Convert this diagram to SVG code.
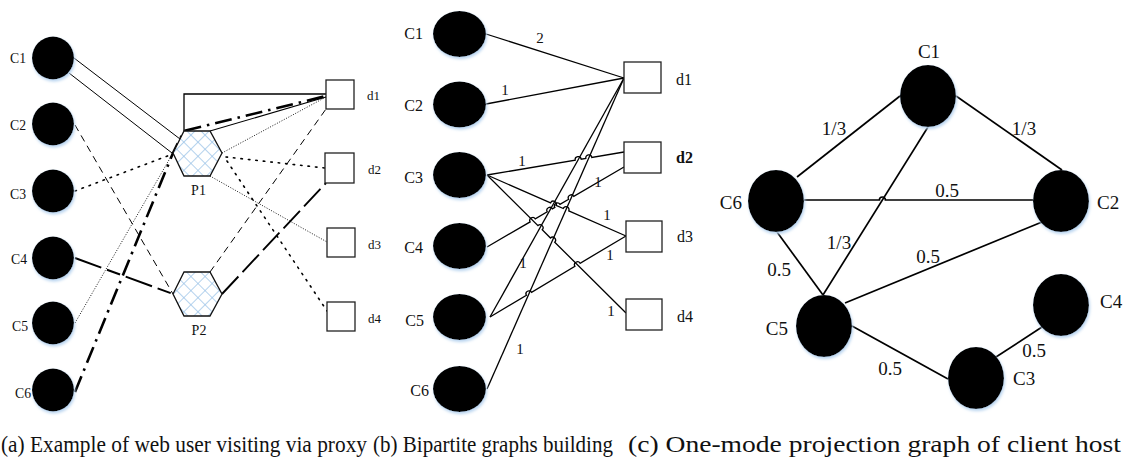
<svg xmlns="http://www.w3.org/2000/svg" width="1123" height="461" viewBox="0 0 1123 461">
<defs>
<style>
.n{fill:#000;filter:url(#glow)}
.box{fill:#fff;stroke:#222;stroke-width:1.3}
.t{font-family:"Liberation Serif","Times New Roman",serif;fill:#111}
.la{font-size:15px}
.lb{font-size:16px}
.lc{font-size:19px}
.da{font-size:13px}
.e{fill:none;stroke:#000}
.eb{fill:none;stroke:#000;stroke-width:1.3}
.ec{fill:none;stroke:#000;stroke-width:1.7}
.hex{fill:url(#hatch);stroke:#111;stroke-width:1.3}
.cap{font-size:23px}
</style>
<filter id="glow" x="-30%" y="-30%" width="160%" height="160%">
<feGaussianBlur in="SourceAlpha" stdDeviation="1.6" result="b"/>
<feOffset in="b" dx="1" dy="1.5" result="o"/>
<feFlood flood-color="#b7d3ef"/>
<feComposite in2="o" operator="in" result="s"/>
<feMerge><feMergeNode in="s"/><feMergeNode in="SourceGraphic"/></feMerge>
</filter>
<pattern id="hatch" width="10" height="10" patternUnits="userSpaceOnUse" patternTransform="rotate(45)">
<rect width="10" height="10" fill="#fff"/>
<path d="M0,0H10M0,0V10" stroke="#9cc3e8" stroke-width="1.5"/>
</pattern>
</defs>
<rect width="1123" height="461" fill="#fff"/>

<!-- Panel (a) connectors -->
<g id="connectors-a">
<path class="e" stroke-width="1" d="M74,58 L180,139"/>
<path class="e" stroke-width="1" d="M69,73 L172,153"/>
<path class="e" stroke="#333" stroke-width="1.3" d="M184,131 V94 H326"/>
<path class="e" stroke-width="1.1" d="M210,131 L326,97"/>
<path class="e" stroke-width="2.6" stroke-dasharray="17,6,2.5,6" d="M75,392 L173,153 L184,131 L326,96"/>
<path class="e" stroke-width="1" stroke-dasharray="7,5" d="M75,125 L173,294"/>
<path class="e" stroke-width="1.6" stroke-dasharray="1.5,6" stroke-linecap="round" d="M75,191 L170,155"/>
<path class="e" stroke-width="2" stroke-dasharray="28,6,14,6" d="M75,258 L173,294"/>
<path class="e" stroke-width="0.9" stroke-dasharray="1,1.6" d="M75,323 L173,153"/>
<path class="e" stroke-width="0.9" stroke-dasharray="1,1.6" d="M222,153 L326,97"/>
<path class="e" stroke-width="1.6" stroke-dasharray="1.5,6" stroke-linecap="round" d="M226,157 L325,168"/>
<path class="e" stroke-width="0.9" stroke-dasharray="1,1.6" d="M210,176 L327,242"/>
<path class="e" stroke-width="1.6" stroke-dasharray="1.5,6" stroke-linecap="round" d="M227,161 L327,311"/>
<path class="e" stroke-width="1" stroke-dasharray="7,5" d="M210,272 L326,109"/>
<path class="e" stroke-width="1.9" stroke-dasharray="24,6" d="M222,294 L326,183"/>
</g>

<!-- Panel (a) nodes -->
<g id="a-C1"><ellipse class="n" cx="53" cy="58" rx="21" ry="21.5"/><text class="t la" x="26" y="63" text-anchor="end" textLength="16" lengthAdjust="spacingAndGlyphs">C1</text></g>
<g id="a-C2"><ellipse class="n" cx="53" cy="124" rx="21" ry="21.5"/><text class="t la" x="26" y="130" text-anchor="end" textLength="16" lengthAdjust="spacingAndGlyphs">C2</text></g>
<g id="a-C3"><ellipse class="n" cx="53" cy="191" rx="21" ry="21.5"/><text class="t la" x="26" y="199" text-anchor="end" textLength="16" lengthAdjust="spacingAndGlyphs">C3</text></g>
<g id="a-C4"><ellipse class="n" cx="53" cy="258" rx="21" ry="21.5"/><text class="t la" x="27" y="264" text-anchor="end" textLength="16" lengthAdjust="spacingAndGlyphs">C4</text></g>
<g id="a-C5"><ellipse class="n" cx="53" cy="323" rx="21" ry="21.5"/><text class="t la" x="28" y="331" text-anchor="end" textLength="16" lengthAdjust="spacingAndGlyphs">C5</text></g>
<g id="a-C6"><ellipse class="n" cx="53" cy="390" rx="21" ry="21.5"/><text class="t la" x="31" y="398" text-anchor="end" textLength="16" lengthAdjust="spacingAndGlyphs">C6</text></g>
<g id="a-P1"><polygon class="hex" points="173,153 184,131 210,131 222,153 210,176 184,176"/><text class="t" font-size="14" x="198.5" y="195" text-anchor="middle">P1</text></g>
<g id="a-P2"><polygon class="hex" points="173,294 184,272 210,272 222,294 210,316 184,316"/><text class="t" font-size="14" x="199" y="335" text-anchor="middle">P2</text></g>
<g id="a-d1"><rect class="box" x="326" y="80" width="28" height="29"/><text class="t da" x="367" y="100">d1</text></g>
<g id="a-d2"><rect class="box" x="325" y="153" width="29" height="30"/><text class="t da" x="368" y="174">d2</text></g>
<g id="a-d3"><rect class="box" x="327" y="228" width="28" height="29"/><text class="t da" x="368" y="249">d3</text></g>
<g id="a-d4"><rect class="box" x="327" y="302" width="28" height="29"/><text class="t da" x="368" y="323">d4</text></g>

<!-- Panel (b) connectors -->
<g id="connectors-b">
<path class="eb" d="M486,34 L624,78"/>
<path class="eb" d="M486,104 L624,78"/>
<path class="eb" d="M487,175 L575.2,160.2 A3,3 0 0 1 581.2,159.2 L585.8,158.4 A3,3 0 0 1 591.8,157.4 L624,152"/>
<path class="eb" d="M487,175 L550.55,202.9 A3,3 0 0 1 556.05,205.3 L563.25,208.5 A3,3 0 0 1 568.75,210.9 L626,236"/>
<path class="eb" d="M487,175 L537.97,225.59 A3,3 0 0 1 542.23,229.81 L550.47,237.99 A3,3 0 0 1 554.73,242.21 L626,313"/>
<path class="eb" d="M487,247 L530.11,221.91 A3,3 0 0 1 535.29,218.89 L547.21,211.81 A3,3 0 0 1 552.39,208.79 L554.81,207.41 A3,3 0 0 1 559.99,204.39 L568.61,199.31 A3,3 0 0 1 573.79,196.29 L624,167"/>
<path class="eb" d="M490,317 L526.42,295.34 A3,3 0 0 1 531.58,292.26 L574.92,266.34 A3,3 0 0 1 580.08,263.26 L626,236"/>
<path class="eb" d="M490,317 L624,78"/>
<path class="eb" d="M487,389 L624,78"/>
<g class="t" font-size="15">
<text x="540" y="43" text-anchor="middle">2</text>
<text x="505" y="95" text-anchor="middle">1</text>
<text x="522" y="166" text-anchor="middle">1</text>
<text x="598" y="187" text-anchor="middle">1</text>
<text x="607" y="220" text-anchor="middle">1</text>
<text x="610" y="260" text-anchor="middle">1</text>
<text x="611" y="316" text-anchor="middle">1</text>
<text x="523" y="268" text-anchor="middle">1</text>
<text x="520" y="354" text-anchor="middle">1</text>
</g>
</g>

<!-- Panel (b) nodes -->
<g id="b-C1"><ellipse class="n" cx="459.5" cy="34" rx="26.5" ry="23"/><text class="t lb" x="423" y="39" text-anchor="end">C1</text></g>
<g id="b-C2"><ellipse class="n" cx="459.5" cy="104.5" rx="26.5" ry="23"/><text class="t lb" x="423" y="111" text-anchor="end">C2</text></g>
<g id="b-C3"><ellipse class="n" cx="459.5" cy="175" rx="26.5" ry="23"/><text class="t lb" x="423" y="183" text-anchor="end">C3</text></g>
<g id="b-C4"><ellipse class="n" cx="459.5" cy="246" rx="26.5" ry="23"/><text class="t lb" x="423" y="253" text-anchor="end">C4</text></g>
<g id="b-C5"><ellipse class="n" cx="459.5" cy="317" rx="26.5" ry="23"/><text class="t lb" x="424" y="326" text-anchor="end">C5</text></g>
<g id="b-C6"><ellipse class="n" cx="459.5" cy="389" rx="26.5" ry="23"/><text class="t lb" x="429" y="396" text-anchor="end">C6</text></g>
<g id="b-d1"><rect class="box" x="624" y="62" width="37" height="31"/><text class="t lb" x="676" y="85">d1</text></g>
<g id="b-d2"><rect class="box" x="624" y="142" width="37" height="31"/><text class="t lb" x="676" y="163" font-weight="bold">d2</text></g>
<g id="b-d3"><rect class="box" x="626" y="221" width="36" height="31"/><text class="t lb" x="677" y="242">d3</text></g>
<g id="b-d4"><rect class="box" x="626" y="299" width="36" height="31"/><text class="t lb" x="677" y="322">d4</text></g>

<!-- Panel (c) connectors -->
<g id="connectors-c">
<path class="ec" d="M900,96 L797,177"/>
<path class="ec" d="M956,96 L1062,170"/>
<path class="ec" d="M804,200 L879.4,200 A3,3 0 0 1 885.4,200 L1033,200"/>
<path class="ec" d="M928,127 L823,295"/>
<path class="ec" d="M777,232 L823,295"/>
<path class="ec" d="M845,303 L1042,222"/>
<path class="ec" d="M852,326 L948,379"/>
<path class="ec" d="M996,357 L1042,327"/>
<g class="t lc">
<text x="834" y="135" text-anchor="middle">1/3</text>
<text x="1024" y="135" text-anchor="middle">1/3</text>
<text x="947" y="197" text-anchor="middle">0.5</text>
<text x="839" y="249" text-anchor="middle">1/3</text>
<text x="779" y="276" text-anchor="middle">0.5</text>
<text x="928" y="263" text-anchor="middle">0.5</text>
<text x="890" y="375" text-anchor="middle">0.5</text>
<text x="1034" y="357" text-anchor="middle">0.5</text>
</g>
</g>

<!-- Panel (c) nodes -->
<g id="c-C1"><ellipse class="n" cx="928" cy="96" rx="28" ry="31"/><text class="t lc" x="929" y="58" text-anchor="middle">C1</text></g>
<g id="c-C6"><ellipse class="n" cx="776" cy="201" rx="28" ry="31"/><text class="t lc" x="742" y="209" text-anchor="end">C6</text></g>
<g id="c-C2"><ellipse class="n" cx="1061" cy="201" rx="28" ry="31"/><text class="t lc" x="1097" y="209">C2</text></g>
<g id="c-C5"><ellipse class="n" cx="824" cy="326" rx="28" ry="31"/><text class="t lc" x="788" y="335" text-anchor="end">C5</text></g>
<g id="c-C4"><ellipse class="n" cx="1061" cy="305" rx="28" ry="31"/><text class="t lc" x="1100" y="308">C4</text></g>
<g id="c-C3"><ellipse class="n" cx="976" cy="378" rx="28" ry="31"/><text class="t lc" x="1013" y="385">C3</text></g>

<!-- Captions -->
<g id="captions" class="t cap">
<text x="1" y="452" textLength="366" lengthAdjust="spacingAndGlyphs">(a) Example of web user visiting via proxy</text>
<text x="373" y="452" textLength="240" lengthAdjust="spacingAndGlyphs">(b) Bipartite graphs building</text>
<text x="628" y="452" textLength="493" lengthAdjust="spacingAndGlyphs">(c) One-mode projection graph of client host</text>
</g>
</svg>
